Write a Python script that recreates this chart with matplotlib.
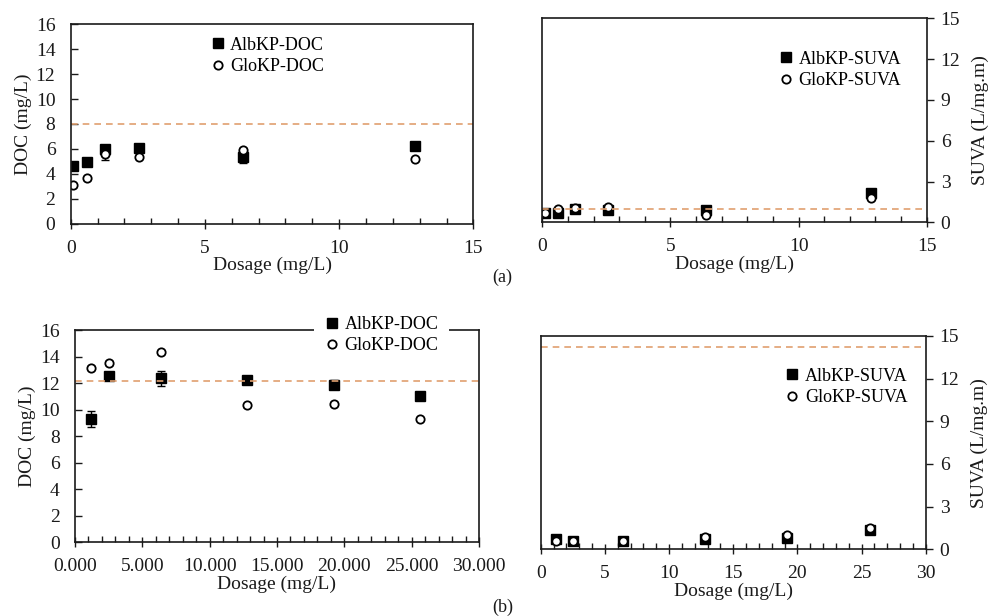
import matplotlib
matplotlib.use("Agg")
import matplotlib.pyplot as plt
from matplotlib.ticker import MultipleLocator, FormatStrFormatter

plt.rcParams['font.family'] = ['Liberation Serif', 'DejaVu Serif']
plt.rcParams['font.size'] = 14

# ---- data (a) ----
dose_a = [0.1, 0.6, 1.28, 2.55, 6.4, 12.84]
alb_doc_a = [4.63, 4.95, 6.0, 6.1, 5.32, 6.2]
alb_doc_a_err = [0.1, 0.1, 0.2, 0.1, 0.45, 0.1]
glo_doc_a = [3.08, 3.64, 5.57, 5.35, 5.91, 5.19]
glo_doc_a_err = [0.1, 0.1, 0.45, 0.1, 0.2, 0.1]
ref_doc_a = 8.0

alb_suva_a = [0.66, 0.71, 0.98, 0.91, 0.91, 2.13]
glo_suva_a = [0.66, 0.96, 1.05, 1.15, 0.54, 1.76]
ref_suva_a = 1.0

# ---- data (b) ----
dose_b = [1.2, 2.53, 6.39, 12.8, 19.2, 25.65]
alb_doc_b = [9.29, 12.53, 12.36, 12.23, 11.88, 11.05]
alb_doc_b_err = [0.6, 0.25, 0.55, 0.15, 0.35, 0.1]
glo_doc_b = [13.16, 13.49, 14.32, 10.32, 10.45, 9.29]
glo_doc_b_err = [0.1, 0.15, 0.1, 0.1, 0.1, 0.1]
ref_doc_b = 12.13

alb_suva_b = [0.73, 0.61, 0.61, 0.70, 0.77, 1.38]
glo_suva_b = [0.61, 0.61, 0.61, 0.89, 1.01, 1.48]
ref_suva_b = 14.23

txt = '#1a1a1a'
dash_col = '#E0A070'

fig = plt.figure(figsize=(9.88, 6.16), dpi=100)
ax1 = fig.add_axes([0.0716, 0.6369, 0.4075, 0.3237])
ax2 = fig.add_axes([0.5489, 0.6391, 0.3891, 0.3312])
ax3 = fig.add_axes([0.0759, 0.1196, 0.4089, 0.3446])
ax4 = fig.add_axes([0.5473, 0.1083, 0.3897, 0.3463])

sq = dict(marker='s', ms=6.5, mfc='black', mec='black', ls='none', color='black')
ci = dict(marker='o', ms=6, mfc='white', mec='black', mew=1.3, ls='none', color='black')
eb = dict(fmt='none', ecolor='black', capsize=3, elinewidth=1)


def style(ax, xmax, xmajor, ymax, ymajor, right=False):
    ax.set_xlim(0, xmax)
    ax.set_ylim(0, ymax)
    ax.xaxis.set_major_locator(MultipleLocator(xmajor))
    ax.xaxis.set_minor_locator(MultipleLocator(1))
    ax.yaxis.set_major_locator(MultipleLocator(ymajor))
    ax.tick_params(axis='x', which='major', direction='inout', length=7, width=1, colors=txt, pad=8)
    ax.tick_params(axis='x', which='minor', direction='in', length=4, width=1, colors=txt)
    if right:
        ax.yaxis.tick_right()
        ax.yaxis.set_label_position('right')
        ax.tick_params(axis='y', which='major', direction='out', length=5, width=1, colors=txt, pad=5)
    else:
        ax.tick_params(axis='y', which='major', direction='in', length=5, width=1, colors=txt, pad=11)
    for s in ax.spines.values():
        s.set_linewidth(1.2)
        s.set_color(txt)


leg_kw = dict(handlelength=0.8, handletextpad=0.3, labelspacing=0.25, fontsize=13)

# panel (a) DOC
style(ax1, 15, 5, 16, 2)
ax1.errorbar(dose_a, alb_doc_a, yerr=alb_doc_a_err, **eb)
ax1.errorbar(dose_a, glo_doc_a, yerr=glo_doc_a_err, **eb)
ax1.plot(dose_a, alb_doc_a, label='AlbKP-DOC', **sq)
ax1.plot(dose_a, glo_doc_a, label='GloKP-DOC', **ci)
ax1.axhline(ref_doc_a, color=dash_col, ls=(0, (4, 3)), lw=1.2)
ax1.set_xlabel('Dosage (mg/L)', color=txt, labelpad=0)
ax1.set_ylabel('DOC (mg/L)', color=txt, labelpad=3)
ax1.legend(loc='center', bbox_to_anchor=(0.488, 0.841), frameon=False, **leg_kw)

# panel (a) SUVA
style(ax2, 15, 5, 15, 3, right=True)
ax2.plot(dose_a, alb_suva_a, label='AlbKP-SUVA', **sq)
ax2.plot(dose_a, glo_suva_a, label='GloKP-SUVA', **ci)
ax2.axhline(ref_suva_a, color=dash_col, ls=(0, (4, 3)), lw=1.2)
ax2.set_xlabel('Dosage (mg/L)', color=txt, labelpad=0)
ax2.set_ylabel('SUVA (L/mg.m)', color=txt, labelpad=8)
ax2.legend(loc='center', bbox_to_anchor=(0.774, 0.747), frameon=False, **leg_kw)

# panel (b) DOC
style(ax3, 30, 5, 16, 2)
ax3.xaxis.set_major_formatter(FormatStrFormatter('%.3f'))
ax3.errorbar(dose_b, alb_doc_b, yerr=alb_doc_b_err, **eb)
ax3.errorbar(dose_b, glo_doc_b, yerr=glo_doc_b_err, **eb)
ax3.plot(dose_b, alb_doc_b, label='AlbKP-DOC', **sq)
ax3.plot(dose_b, glo_doc_b, label='GloKP-DOC', **ci)
ax3.axhline(ref_doc_b, color=dash_col, ls=(0, (4, 3)), lw=1.2)
ax3.set_xlabel('Dosage (mg/L)', color=txt, labelpad=0)
ax3.set_ylabel('DOC (mg/L)', color=txt, labelpad=3)
leg3 = ax3.legend(loc='center', bbox_to_anchor=(0.759, 0.976), frameon=True, facecolor='white',
                  edgecolor='none', framealpha=1, fancybox=False, borderpad=0.6, borderaxespad=0,
                  **leg_kw)
leg3.set_zorder(10)

# panel (b) SUVA
style(ax4, 30, 5, 15, 3, right=True)
ax4.plot(dose_b, alb_suva_b, label='AlbKP-SUVA', **sq)
ax4.plot(dose_b, glo_suva_b, label='GloKP-SUVA', **ci)
ax4.axhline(ref_suva_b, color=dash_col, ls=(0, (4, 3)), lw=1.2)
ax4.set_xlabel('Dosage (mg/L)', color=txt, labelpad=0)
ax4.set_ylabel('SUVA (L/mg.m)', color=txt, labelpad=8)
ax4.legend(loc='center', bbox_to_anchor=(0.794, 0.761), frameon=False, **leg_kw)

for ax in (ax1, ax2, ax3, ax4):
    for lab in ax.get_xticklabels() + ax.get_yticklabels():
        lab.set_color(txt)

fig.text(0.508, 0.549, '(a)', ha='center', va='center', color=txt, fontsize=13)
fig.text(0.509, 0.0146, '(b)', ha='center', va='center', color=txt, fontsize=13)

fig.savefig('out.png', dpi=100, facecolor='white')
